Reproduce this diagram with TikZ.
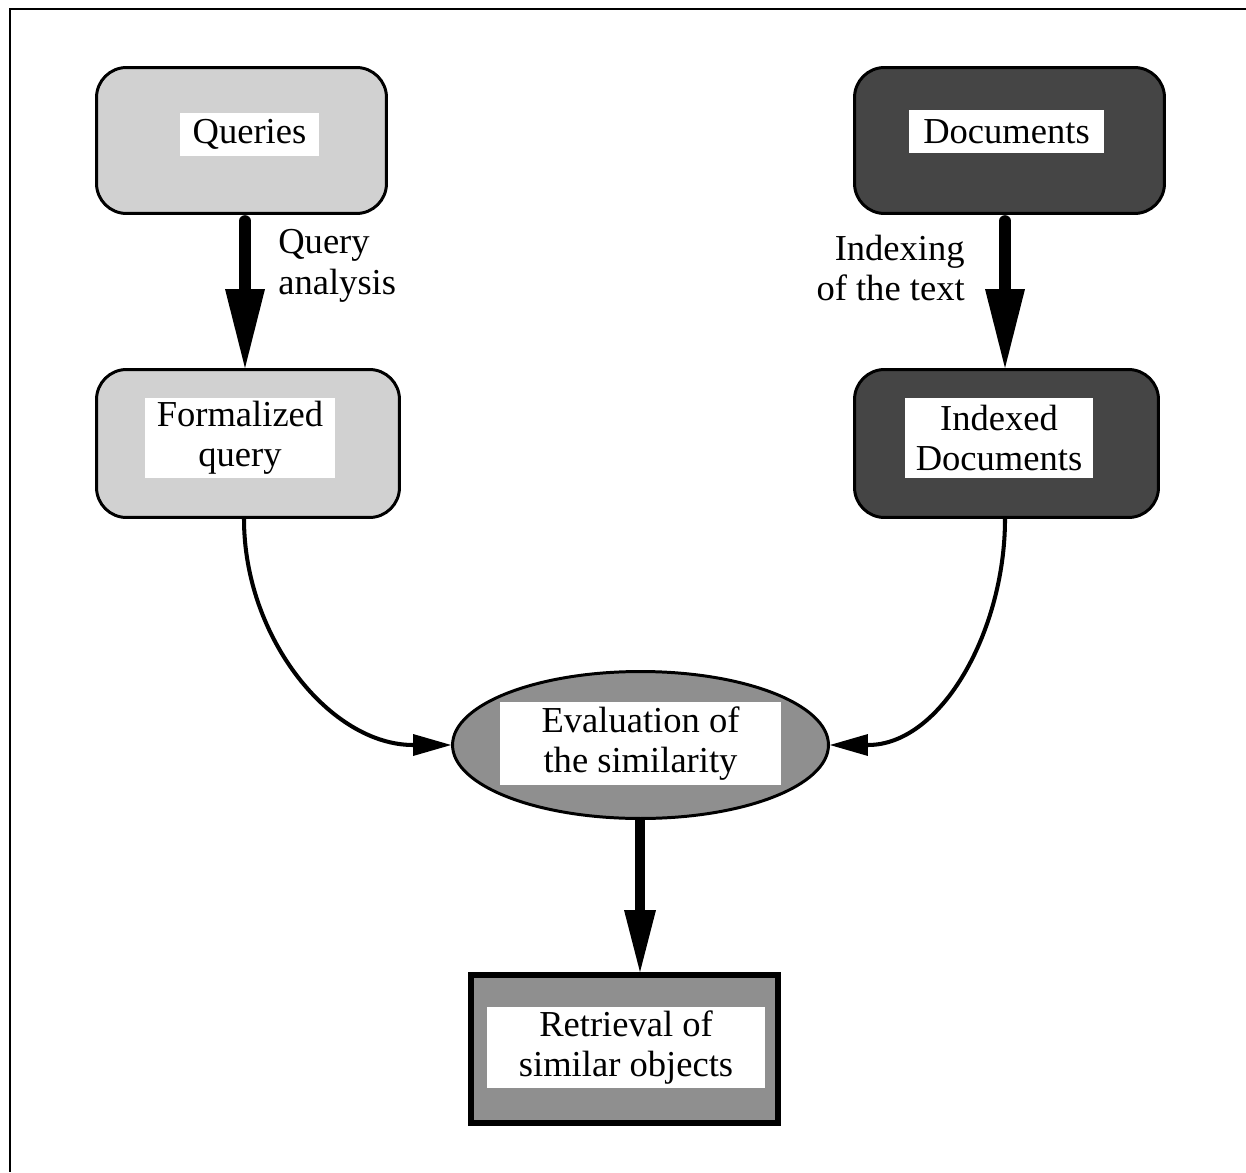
\documentclass[tikz,border=0pt]{standalone}
\usepackage{fontspec}
\setmainfont{Liberation Serif}
\usetikzlibrary{arrows.meta,shapes.geometric}
\newcommand\labfont{\fontsize{20.8}{23}\selectfont}
\definecolor{lightfill}{gray}{0.82}
\definecolor{darkfill}{gray}{0.27}
\definecolor{hatchfill}{gray}{0.56}

\begin{document}
\begin{tikzpicture}[x=0.02cm,y=-0.02cm,
  box/.style={draw, line width=1.7pt, rounded corners=0.6cm, inner sep=0pt},
  lbl/.style={fill=white, inner sep=0pt, align=center, font=\labfont},
  note/.style={inner sep=0pt, font=\labfont},
  bigarrow/.style={line width=0.232cm, line cap=round,
    -{Triangle[length=1.58cm,width=0.8cm,line width=0pt]}},
  midarrow/.style={line width=0.2cm,
    -{Triangle[length=1.24cm,width=0.64cm,line width=0pt]}},
  curvearrow/.style={line width=2.3pt, line cap=round,
    -{Triangle[length=0.76cm,width=0.44cm,line width=0pt]}}]

\useasboundingbox (0,0) rectangle (1246,1172);

% frame
\draw[line width=1.4pt] (1246,9) -- (10,9) -- (10,1172);

% helper columns for the straight connectors
\coordinate (qx) at (245,0);
\coordinate (dx) at (1005,0);
\coordinate (lx) at (244,0);
\coordinate (bx) at (640,0);

% query side
\node[box, fill=lightfill, minimum width=5.8cm, minimum height=2.92cm] (queries) at (241.5,140.5) {};
\node[lbl, minimum width=2.78cm, minimum height=0.86cm] (queriesl) at (249.5,134.5) {Queries};
\node[box, fill=lightfill, minimum width=6.06cm, minimum height=2.96cm] (form) at (248,443.5) {};
\node[lbl, minimum width=3.8cm, minimum height=1.6cm] (forml) at (240,438) {Formalized\\query};

% document side
\node[box, fill=darkfill, minimum width=6.2cm, minimum height=2.92cm] (docs) at (1009.5,140.5) {};
\node[lbl, minimum width=3.9cm, minimum height=0.86cm] (docsl) at (1006.5,131.5) {Documents};
\node[box, fill=darkfill, minimum width=6.08cm, minimum height=2.96cm] (idx) at (1006.5,443.5) {};
\node[lbl, minimum width=3.76cm, minimum height=1.6cm] (idxl) at (999,438) {Indexed\\Documents};

% similarity evaluation
\node[ellipse, draw, line width=1.7pt, fill=hatchfill, minimum width=7.52cm, minimum height=2.94cm, inner sep=0pt] (eval) at (640.5,745) {};
\node[lbl, minimum width=5.62cm, minimum height=1.66cm] (evall) at (640.5,743.5) {Evaluation of\\the similarity};

% retrieval
\node[draw, line width=3.4pt, fill=hatchfill, minimum width=6.14cm, minimum height=2.96cm, inner sep=0pt] (retr) at (624.5,1049) {};
\node[lbl, minimum width=5.56cm, minimum height=1.62cm] (retrl) at (626,1047.5) {Retrieval of\\similar objects};

% arrow labels
\node[note, anchor=west, align=left] (qa) at (278,266) {Query\\analysis};
\node[note, anchor=east, align=right] (it) at (965,268) {Indexing\\of the text};

% connectors
\draw[bigarrow, shorten <=0.12cm] (queries.south -| qx) -- (form.north -| qx);
\draw[bigarrow, shorten <=0.12cm] (docs.south -| dx) -- (idx.north -| dx);
\draw[curvearrow] (form.south -| lx) to[out=-90,in=180] (eval.west);
\draw[curvearrow] (idx.south -| dx) to[out=-90,in=0] (eval.east);
\draw[midarrow] (eval.south -| bx) -- (retr.north -| bx);

\end{tikzpicture}
\end{document}
